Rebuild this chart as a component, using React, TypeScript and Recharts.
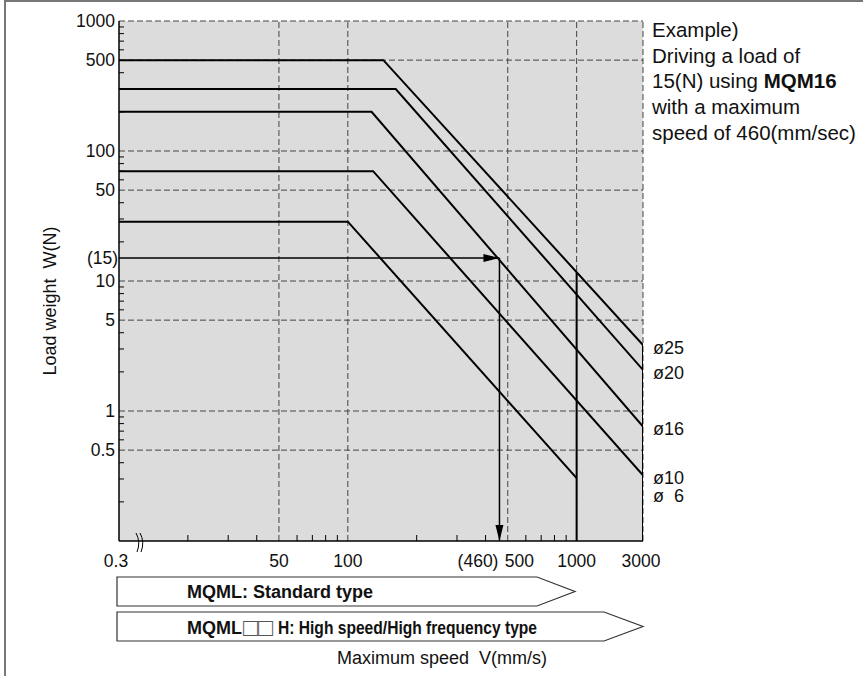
import { ComposedChart, Line, XAxis, YAxis, CartesianGrid, ReferenceLine, ReferenceDot } from 'recharts'

const FONT = '"Liberation Sans", Arial, Helvetica, sans-serif'

// axis range: left edge is the "0.3" break, right edge carries the 3000 label
const speedRange = [10, 1950]
const loadRange = [0.1, 1000]

const xTickValues = [10, 20, 30, 40, 50, 60, 70, 80, 90, 100, 200, 300, 400, 460, 500, 600, 700, 800, 900, 1000, 1950]
const xTickLabels: Record<number, string> = { 10: '0.3', 50: '50', 100: '100', 460: '(460)', 500: '500', 1000: '1000', 1950: '3000' }
const yTickValues = [
  0.2, 0.3, 0.4, 0.5, 0.6, 0.7, 0.8, 0.9, 1, 2, 3, 4, 5, 6, 7, 8, 9, 10, 15, 20, 30, 40, 50, 60, 70, 80, 90,
  100, 200, 300, 400, 500, 600, 700, 800, 900, 1000,
]
const yTickLabels: Record<number, string> = { 0.5: '0.5', 1: '1', 5: '5', 10: '10', 15: '(15)', 50: '50', 100: '100', 500: '500', 1000: '1000' }

const xGrid = [50, 100, 500, 1000, 1950]
const yGrid = [0.5, 1, 5, 10, 50, 100, 500, 1000]

// one curve per bore size: flat load up to the knee, then falling to the end point
const bores = ['ø25', 'ø20', 'ø16', 'ø10', 'ø\u00A0\u00A06']
const flatLoad = [500, 300, 200, 70, 28.6]
const kneeSpeed = [143, 162, 127, 129, 100]
const endSpeed = [1950, 1950, 1950, 1950, 1000]
const endLoad = [3.22, 2.07, 0.76, 0.32, 0.305]
const boreLabelLoad = [3.22, 2.07, 0.76, 0.32, 0.232]

// vertical limit lines at 1000 and at the right edge
const limitSpeed = [1000, 1950]
const limitLoad = [11.7, 3.22]

// worked example
const exampleSpeed = 460
const exampleLoad = 15

const curves = bores.map((_, i) => [
  { v: speedRange[0], w: flatLoad[i] },
  { v: kneeSpeed[i], w: flatLoad[i] },
  { v: endSpeed[i], w: endLoad[i] },
])
const limits = limitSpeed.map((s, i) => [
  { v: s, w: limitLoad[i] },
  { v: s, w: loadRange[0] },
])
const arrowH = [
  { v: speedRange[0], w: exampleLoad },
  { v: exampleSpeed, w: exampleLoad },
]
const arrowV = [
  { v: exampleSpeed, w: exampleLoad },
  { v: exampleSpeed, w: loadRange[0] },
]

function SpeedTick({ x, y, payload }: any) {
  const v = payload.value
  const label = xTickLabels[v]
  if (!label) return <line x1={x} x2={x} y1={y} y2={y - 6} stroke="#000" strokeWidth={1} />
  let anchor = 'middle'
  let dx = 0
  if (v === 10) dx = -3
  if (v === 460) { anchor = 'end'; dx = -1 }
  if (v === 500) { anchor = 'start'; dx = -3 }
  if (v === 1950) dx = -2
  return (
    <g>
      <text x={x + dx} y={y + 26} textAnchor={anchor} fontSize={17.5} fontFamily={FONT} fill="#111">{label}</text>
      {v === 10 && (
        <g fill="none" stroke="#000" strokeWidth={1}>
          <path d={`M${x + 17} ${y - 8} Q${x + 22} ${y + 1} ${x + 18} ${y + 11}`} />
          <path d={`M${x + 21} ${y - 8} Q${x + 26} ${y + 1} ${x + 22} ${y + 11}`} />
        </g>
      )}
    </g>
  )
}

function LoadTick({ x, y, payload }: any) {
  const v = payload.value
  const label = yTickLabels[v]
  if (!label) return <line x1={x} x2={x + 5} y1={y} y2={y} stroke="#000" strokeWidth={1} />
  return (
    <text x={x - (v === 15 ? 1 : 4)} y={y + 6} textAnchor="end" fontSize={17.5} fontFamily={FONT} fill="#111">{label}</text>
  )
}

const arrowRight = ({ cx, cy, index }: any) =>
  index === 1 ? <polygon key={index} points={`${cx},${cy} ${cx - 16},${cy - 4} ${cx - 16},${cy + 4}`} fill="#000" /> : <g key={index} />
const arrowDown = ({ cx, cy, index }: any) =>
  index === 1 ? <polygon key={index} points={`${cx},${cy} ${cx - 4},${cy - 16} ${cx + 4},${cy - 16}`} fill="#000" /> : <g key={index} />

export default function App() {
  return (
    <div style={{ position: 'absolute', left: 0, top: 0, width: 863, height: 676, background: '#fff', overflow: 'hidden', fontFamily: FONT }}>
      <div style={{ position: 'absolute', left: 4, top: 0, width: 880, height: 700, borderTop: '2px solid #777', borderLeft: '2px solid #777' }} />
      <div style={{ position: 'absolute', left: 0, top: 0 }}>
        <ComposedChart width={863} height={676} margin={{ top: 21, right: 220, bottom: 0, left: 0 }}>
          <CartesianGrid horizontal={false} vertical={false} fill="#dcdcdc" fillOpacity={1} stroke="none" />
          <XAxis
            dataKey="v"
            type="number"
            scale="log"
            domain={speedRange}
            allowDataOverflow
            ticks={xTickValues}
            interval={0}
            tickSize={0}
            tickMargin={0}
            tickLine={false}
            tick={<SpeedTick />}
            height={135}
            axisLine={{ stroke: '#000', strokeWidth: 1.5 }}
          />
          <YAxis
            dataKey="w"
            type="number"
            scale="log"
            domain={loadRange}
            allowDataOverflow
            ticks={yTickValues}
            interval={0}
            tickSize={0}
            tickMargin={0}
            tickLine={false}
            tick={<LoadTick />}
            width={119}
            axisLine={{ stroke: '#000', strokeWidth: 1.5 }}
          />
          {yGrid.map((g) => (
            <ReferenceLine key={'y' + g} y={g} stroke="#444" strokeDasharray="6 3" strokeWidth={1} />
          ))}
          {xGrid.map((g) => (
            <ReferenceLine key={'x' + g} x={g} stroke="#444" strokeDasharray="6 3" strokeWidth={1} />
          ))}
          {curves.map((d, i) => (
            <Line key={bores[i]} data={d} dataKey="w" type="linear" stroke="#000" strokeWidth={2} dot={false} isAnimationActive={false} />
          ))}
          {limits.map((d, i) => (
            <Line key={'lim' + i} data={d} dataKey="w" type="linear" stroke="#000" strokeWidth={2} dot={false} isAnimationActive={false} />
          ))}
          <Line data={arrowH} dataKey="w" type="linear" stroke="#000" strokeWidth={1.5} dot={arrowRight} isAnimationActive={false} />
          <Line data={arrowV} dataKey="w" type="linear" stroke="#000" strokeWidth={1.5} dot={arrowDown} isAnimationActive={false} />
          {bores.map((b, i) => (
            <ReferenceDot
              key={'lb' + i}
              x={speedRange[1]}
              y={boreLabelLoad[i]}
              r={0}
              ifOverflow="visible"
              shape={(p: any) => (
                <text x={p.cx + 10} y={p.cy + 9} fontSize={18} fontFamily={FONT} fill="#111">{b}</text>
              )}
            />
          ))}
        </ComposedChart>
      </div>
      <svg width={863} height={676} style={{ position: 'absolute', left: 0, top: 0, pointerEvents: 'none' }} fontFamily={FONT}>
        <text x={50} y={301} transform="rotate(-90 50 301)" textAnchor="middle" dominantBaseline="central" fontSize={18} fill="#111" style={{ whiteSpace: 'pre' }}>
          {'Load weight  W(N)'}
        </text>
        <polygon points="117,577 537,577 575,591.5 537,606 117,606" fill="#fff" stroke="#333" strokeWidth={1.2} />
        <text x={187} y={598} fontSize={18} fontWeight="bold" fill="#111">MQML: Standard type</text>
        <polygon points="117,612 604,612 643,626.5 604,641 117,641" fill="#fff" stroke="#333" strokeWidth={1.2} />
        <text x={187} y={633.5} fontSize={18} fontWeight="bold" fill="#111">MQML</text>
        <text x={243} y={635.5} fontSize={25} fill="#555">□□</text>
        <text x={278} y={633.5} fontSize={18} fontWeight="bold" fill="#111" textLength={259} lengthAdjust="spacingAndGlyphs">
          H: High speed/High frequency type
        </text>
        <text x={337} y={663.5} fontSize={18} fill="#111" style={{ whiteSpace: 'pre' }}>{'Maximum speed  V(mm/s)'}</text>
      </svg>
      <div style={{ position: 'absolute', left: 652, top: 17, fontSize: 20.5, lineHeight: '25.7px', color: '#111', whiteSpace: 'nowrap' }}>
        Example)<br />
        Driving a load of<br />
        15(N) using <b>MQM16</b><br />
        with a maximum<br />
        speed of 460(mm/sec)
      </div>
    </div>
  )
}
